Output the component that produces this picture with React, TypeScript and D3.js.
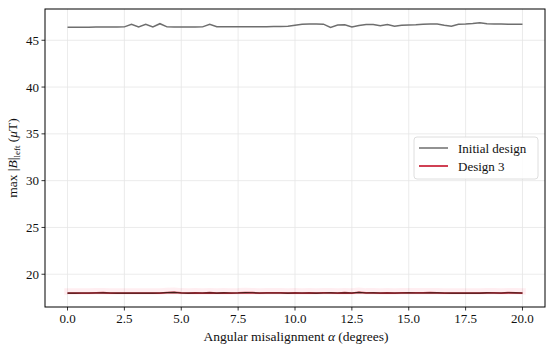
import React from "react";
import * as d3 from "d3";

const initialDesign = [
  46.39, 46.39, 46.4, 46.4, 46.41, 46.41, 46.42, 46.42, 46.43, 46.71, 46.42, 46.71, 46.42, 46.77, 46.43,
  46.42, 46.42, 46.42, 46.42, 46.43, 46.71, 46.44, 46.45, 46.45, 46.45, 46.44, 46.44, 46.45, 46.45, 46.46,
  46.47, 46.5, 46.6, 46.71, 46.75, 46.74, 46.72, 46.38, 46.62, 46.65, 46.42, 46.58, 46.68, 46.68, 46.55,
  46.68, 46.5, 46.6, 46.64, 46.66, 46.72, 46.74, 46.73, 46.6, 46.5, 46.72, 46.74, 46.8, 46.88, 46.76,
  46.74, 46.73, 46.72, 46.72, 46.72,
];

const design3 = [
  17.98, 17.98, 17.99, 17.99, 18.0, 18.02, 17.99, 17.98, 17.98, 17.99, 17.98, 17.98, 17.98, 17.99, 18.04,
  18.06, 18.0, 17.98, 18.0, 17.99, 18.02, 17.98, 18.01, 17.99, 18.0, 18.04, 18.02, 17.99, 18.0, 18.0,
  18.0, 17.98, 18.0, 17.99, 18.0, 17.98, 18.0, 18.01, 17.99, 18.02, 17.99, 18.06, 18.0, 18.01, 17.99,
  18.0, 17.99, 18.0, 18.01, 18.0, 18.0, 18.02, 18.01, 17.99, 17.98, 17.98, 17.98, 17.99, 17.98, 18.01,
  18.0, 17.99, 18.02, 18.01, 17.99,
];

const alphaStep = 20 / (initialDesign.length - 1);
const alphas = initialDesign.map((_, i) => i * alphaStep);

const xTicks = [0, 2.5, 5, 7.5, 10, 12.5, 15, 17.5, 20];
const yTicks = [20, 25, 30, 35, 40, 45];

const seriesNames = ["Initial design", "Design 3"];

const W = 550;
const H = 351;
const L = 45;
const R = 545;
const T = 9;
const B = 307;

export default function App() {
  const x = d3.scaleLinear().domain([-0.99, 20.99]).range([L, R]);
  const y = d3.scaleLinear().domain([16.5, 48.34]).range([B, T]);
  const line = d3
    .line<[number, number]>()
    .x((d) => x(d[0]))
    .y((d) => y(d[1]));
  const initPts: [number, number][] = alphas.map((a, i) => [a, initialDesign[i]]);
  const d3Pts: [number, number][] = alphas.map((a, i) => [a, design3[i]]);
  const bandPts: [number, number][] = alphas.map((a, i) => [a, design3[i] + 0.17]);
  const font = "'Liberation Serif', 'DejaVu Serif', serif";
  const red = "#c0001a";
  const fs = 13;

  return (
    <svg
      width={W}
      height={H}
      style={{ position: "absolute", left: 0, top: 0, background: "#fff" }}
      fontFamily={font}
    >
      <defs>
        <clipPath id="clip">
          <rect x={L} y={T} width={R - L} height={B - T} />
        </clipPath>
      </defs>
      {xTicks.map((t) => (
        <line key={"gx" + t} x1={x(t)} x2={x(t)} y1={T} y2={B} stroke="#e6e6e6" strokeWidth={0.8} />
      ))}
      {yTicks.map((t) => (
        <line key={"gy" + t} x1={L} x2={R} y1={y(t)} y2={y(t)} stroke="#e6e6e6" strokeWidth={0.8} />
      ))}
      <g clipPath="url(#clip)">
        <path
          d={line(bandPts) || ""}
          fill="none"
          stroke="#ff2050"
          strokeOpacity={0.08}
          strokeWidth={6.5}
          strokeLinecap="square"
        />
        <path d={line(initPts) || ""} fill="none" stroke="#6e6e6e" strokeWidth={1.5} />
        <path d={line(d3Pts) || ""} fill="none" stroke={red} strokeWidth={1.8} strokeOpacity={0.8} />
        <path d={line(d3Pts) || ""} fill="none" stroke="#2a1a10" strokeWidth={1.1} strokeOpacity={0.85} />
      </g>
      <rect x={L} y={T} width={R - L} height={B - T} fill="none" stroke="#000" strokeWidth={1} />
      {xTicks.map((t) => (
        <g key={"xt" + t}>
          <line x1={x(t)} x2={x(t)} y1={B} y2={B + 3.5} stroke="#000" strokeWidth={0.8} />
          <text x={x(t)} y={B + 16} textAnchor="middle" fontSize={fs} fill="#111">
            {t.toFixed(1)}
          </text>
        </g>
      ))}
      {yTicks.map((t) => (
        <g key={"yt" + t}>
          <line x1={L - 3.5} x2={L} y1={y(t)} y2={y(t)} stroke="#000" strokeWidth={0.8} />
          <text x={L - 6} y={y(t) + 4.5} textAnchor="end" fontSize={fs} fill="#111">
            {t}
          </text>
        </g>
      ))}
      <text x={(L + R) / 2 + 1} y={341} textAnchor="middle" fontSize={13.5} fill="#111">
        Angular misalignment <tspan fontStyle="italic">α</tspan> (degrees)
      </text>
      <text
        transform={`translate(17, ${(T + B) / 2}) rotate(-90)`}
        textAnchor="middle"
        fontSize={13.5}
        fill="#111"
      >
        max |<tspan fontStyle="italic">B</tspan>|
        <tspan fontSize={9} dy={3}>left</tspan>
        <tspan dy={-3}> (</tspan>
        <tspan fontStyle="italic">μ</tspan>T)
      </text>
      <g>
        <rect x={414} y={137} width={124} height={42} rx={3} fill="#fff" fillOpacity={0.85} stroke="#d6d6d6" strokeWidth={0.8} />
        <line x1={419} x2={448} y1={148} y2={148} stroke="#6e6e6e" strokeWidth={1.5} />
        <text x={458} y={152.5} fontSize={fs} fill="#111">
          {seriesNames[0]}
        </text>
        <line x1={419} x2={448} y1={166} y2={166} stroke={red} strokeWidth={1.5} />
        <text x={458} y={170.5} fontSize={fs} fill="#111">
          {seriesNames[1]}
        </text>
      </g>
    </svg>
  );
}
